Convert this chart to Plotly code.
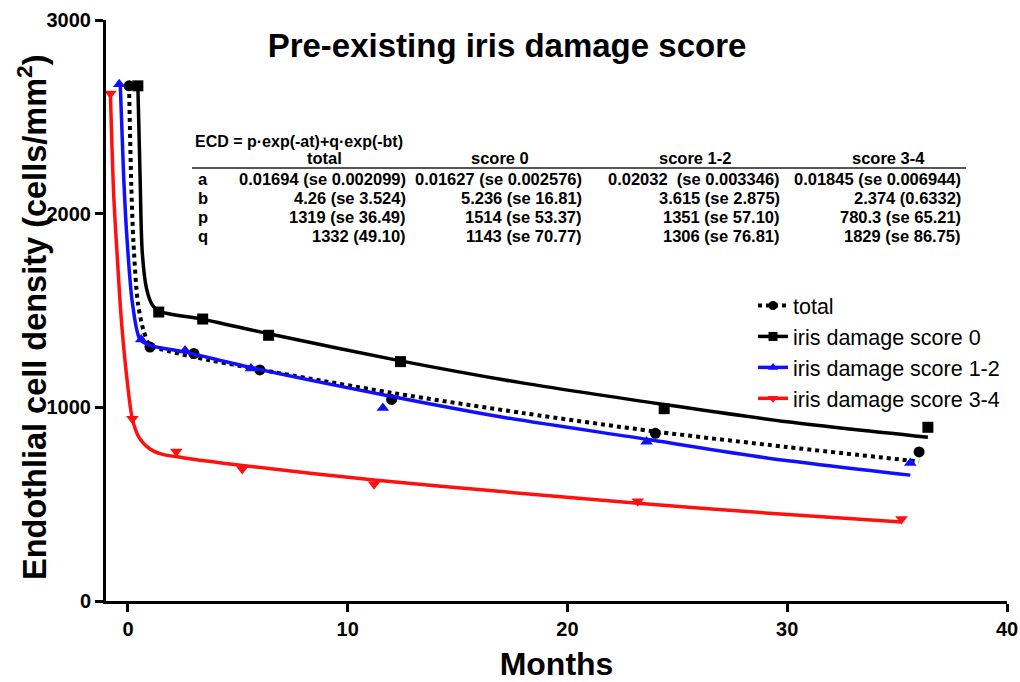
import plotly.graph_objects as go

# ---------------- data ----------------
# measured means (markers); x offsets as drawn in the reference
total_t = [0.05, 1.0, 3.0, 6.0, 12.0, 24.0, 36.0]
total_v = [2660, 1311, 1278, 1193, 1041, 866, 770]
s0_t = [0.45, 1.4, 3.4, 6.4, 12.4, 24.4, 36.4]
s0_v = [2660, 1492, 1456, 1372, 1236, 993, 897]
s12_t = [-0.4, 0.6, 2.6, 5.6, 11.6, 23.6, 35.6]
s12_v = [2668, 1350, 1293, 1201, 997, 822, 713]
s34_t = [-0.8, 0.2, 2.2, 5.2, 11.2, 23.2, 35.2]
s34_v = [2620, 941, 772, 682, 603, 515, 423]

# fitted curves, points
fit_total_t = [0.05, 0.15, 0.25, 0.45, 0.7, 1.0, 1.5, 3, 6, 12, 18, 24, 30, 36]
fit_total_v = [2660, 2150, 1850, 1540, 1400, 1320, 1300, 1260, 1195, 1075, 970, 875, 795, 720]
fit_s0_t = [0.45, 0.55, 0.65, 0.85, 1.1, 1.4, 3.4, 6.4, 12.4, 18, 24.4, 30, 36.4]
fit_s0_v = [2660, 2200, 1800, 1610, 1530, 1497, 1455, 1380, 1240, 1125, 1015, 925, 845]
fit_s12_t = [-0.35, -0.2, -0.05, 0.2, 0.55, 1.0, 2.6, 5.6, 11.6, 17, 23.6, 29, 35.6]
fit_s12_v = [2665, 2200, 1880, 1540, 1350, 1320, 1285, 1205, 1065, 950, 835, 740, 650]
fit_s34_t = [-0.8, -0.65, -0.5, -0.3, -0.05, 0.2, 0.5, 1.0, 1.5, 2.5, 5.2, 11.2, 17, 23.2, 29, 35.2]
fit_s34_v = [2620, 2100, 1800, 1450, 1150, 940, 845, 785, 760, 740, 700, 625, 565, 505, 455, 408]

series_names = ["total", "iris damage score 0", "iris damage score 1-2", "iris damage score 3-4"]

x_ticks = [0, 10, 20, 30, 40]
y_ticks = [0, 1000, 2000, 3000]

table_formula = "ECD = p·exp(-at)+q·exp(-bt)"
table_headers = ["total", "score 0", "score 1-2", "score 3-4"]
table_params = ["a", "b", "p", "q"]
table_total = ["0.01694 (se 0.002099)", "4.26 (se 3.524)", "1319 (se 36.49)", "1332 (49.10)"]
table_s0 = ["0.01627 (se 0.002576)", "5.236 (se 16.81)", "1514 (se 53.37)", "1143 (se 70.77)"]
table_s12 = ["0.02032  (se 0.003346)", "3.615 (se 2.875)", "1351 (se 57.10)", "1306 (se 76.81)"]
table_s34 = ["0.01845 (se 0.006944)", "2.374 (0.6332)", "780.3 (se 65.21)", "1829 (se 86.75)"]

# ---------------- figure ----------------
W, H = 1020, 682
L, R, T, B = 106, 13, 20, 81


def px(xp):
    return (xp - L) / (W - L - R)


def py(yp):
    return (H - B - yp) / (H - T - B)


FONT = "Liberation Sans, Arial, sans-serif"

fig = go.Figure()

styles = [
    dict(color="black", dash="dot", width=4, symbol="circle", size=11),
    dict(color="black", dash="solid", width=3.5, symbol="square", size=11),
    dict(color="#1010ff", dash="solid", width=3.5, symbol="triangle-up", size=11),
    dict(color="#ff1010", dash="solid", width=3.5, symbol="triangle-down", size=11),
]
fits = [(fit_total_t, fit_total_v), (fit_s0_t, fit_s0_v), (fit_s12_t, fit_s12_v), (fit_s34_t, fit_s34_v)]
pts = [(total_t, total_v), (s0_t, s0_v), (s12_t, s12_v), (s34_t, s34_v)]

for name, st, (ft, fv), (mt, mv) in zip(series_names, styles, fits, pts):
    fig.add_trace(go.Scatter(
        x=ft, y=fv, mode="lines", showlegend=False, hoverinfo="skip",
        line=dict(color=st["color"], dash=st["dash"], width=st["width"], shape="spline", smoothing=0.8),
    ))
    fig.add_trace(go.Scatter(
        x=mt, y=mv, mode="markers", showlegend=False, cliponaxis=False,
        marker=dict(color=st["color"], symbol=st["symbol"], size=st["size"]),
    ))
    # legend entry combining line and marker
    fig.add_trace(go.Scatter(
        x=[None], y=[None], mode="lines+markers", name=name,
        line=dict(color=st["color"], dash=st["dash"], width=st["width"]),
        marker=dict(color=st["color"], symbol=st["symbol"], size=9),
    ))

TF = 16.5
annotations = []
annotations.append(dict(text=table_formula, x=px(193), y=py(141), xref="paper", yref="paper",
                        xanchor="left", yanchor="middle", showarrow=False,
                        font=dict(family=FONT, size=16, color="black", weight="bold")))
header_x = [324, 500, 695, 888]
for hx, htxt in zip(header_x, table_headers):
    annotations.append(dict(text=htxt, x=px(hx), y=py(158), xref="paper", yref="paper",
                            xanchor="center", yanchor="middle", showarrow=False,
                            font=dict(family=FONT, size=TF, color="black", weight="bold")))
row_y = [179, 198, 217, 236]
col_right = [408, 584, 782, 963]
cols = [table_total, table_s0, table_s12, table_s34]
for i, (ry, pname) in enumerate(zip(row_y, table_params)):
    annotations.append(dict(text=pname, x=px(203), y=py(ry), xref="paper", yref="paper",
                            xanchor="center", yanchor="middle", showarrow=False,
                            font=dict(family=FONT, size=TF, color="black", weight="bold")))
    for cr, col in zip(col_right, cols):
        annotations.append(dict(text=col[i], x=px(cr), y=py(ry), xref="paper", yref="paper",
                                xanchor="right", yanchor="middle", showarrow=False,
                                font=dict(family=FONT, size=TF, color="black", weight="bold")))

# y-axis title drawn as a rotated annotation for exact placement
annotations.append(dict(text="Endothlial cell density (cells/mm<sup>2</sup>)", x=px(32), y=py(317),
                        xref="paper", yref="paper", xanchor="center", yanchor="middle",
                        textangle=-90, showarrow=False,
                        font=dict(family=FONT, size=32.5, color="black", weight="bold")))

shapes = [dict(type="line", xref="paper", yref="paper", x0=px(192), x1=px(966), y0=py(168), y1=py(168),
               line=dict(color="#555555", width=2))]

fig.update_layout(
    width=W, height=H,
    margin=dict(l=L, r=R, t=T, b=B, autoexpand=False),
    paper_bgcolor="white", plot_bgcolor="white",
    font=dict(family=FONT, color="black"),
    title=dict(text="Pre-existing iris damage score", x=507 / W, xref="container", xanchor="center",
               y=1 - 45 / H, yref="container", yanchor="middle",
               font=dict(family=FONT, size=33, color="black", weight="bold")),
    showlegend=True,
    legend=dict(x=px(753), y=py(285), xanchor="left", yanchor="top", bgcolor="rgba(0,0,0,0)",
                font=dict(family=FONT, size=21.5, color="black"), tracegroupgap=0, itemwidth=30),
    annotations=annotations,
    shapes=shapes,
)

fig.update_xaxes(
    range=[-1, 40], tickvals=x_ticks, ticktext=[str(v) for v in x_ticks],
    showline=True, linecolor="black", linewidth=3, ticks="outside", ticklen=8, tickwidth=3,
    tickcolor="black", showgrid=False, zeroline=False, automargin=False,
    tickfont=dict(family=FONT, size=20, color="black", weight="bold"),
    title=dict(text="Months", standoff=21, font=dict(family=FONT, size=32, color="black", weight="bold")),
)
fig.update_yaxes(
    range=[0, 3000], tickvals=y_ticks, ticktext=[str(v) for v in y_ticks],
    showline=True, linecolor="black", linewidth=3, ticks="outside", ticklen=8, tickwidth=3,
    tickcolor="black", showgrid=False, zeroline=False, automargin=False,
    tickfont=dict(family=FONT, size=20, color="black", weight="bold"),
)

fig.write_html("out.html", config={"displayModeBar": False},
               post_script="document.body.style.margin='0px';")
